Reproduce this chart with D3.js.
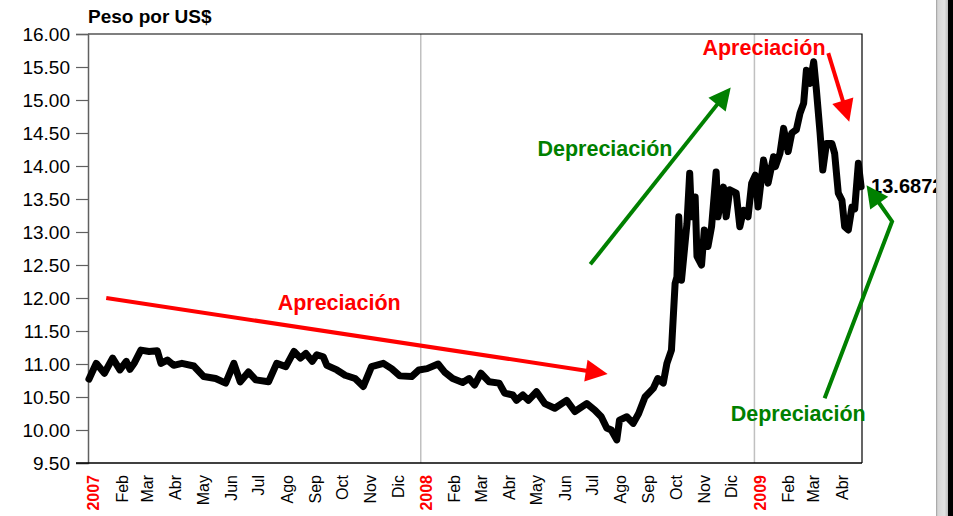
<!DOCTYPE html>
<html>
<head>
<meta charset="utf-8">
<script src="https://cdn.jsdelivr.net/npm/d3@7"></script>
<style>
  body { margin: 0; background: #fff; }
</style>
</head>
<body>
<div id="chart"></div>
<script>
(function () {

    /* ── data ────────────────────────────────────────────────────── */
    var DATES = [
        "2007-01-02","2007-01-10","2007-01-19","2007-01-28","2007-02-05","2007-02-12","2007-02-16","2007-02-21",
        "2007-02-28","2007-03-09","2007-03-18","2007-03-22","2007-03-29","2007-04-05","2007-04-14","2007-04-27",
        "2007-05-08","2007-05-21","2007-06-01","2007-06-10","2007-06-17","2007-06-26","2007-07-04","2007-07-18",
        "2007-07-27","2007-08-06","2007-08-15","2007-08-22","2007-08-28","2007-09-04","2007-09-09","2007-09-16",
        "2007-09-20","2007-10-01","2007-10-10","2007-10-21","2007-10-30","2007-11-08","2007-11-21","2007-11-30",
        "2007-12-09","2007-12-22","2007-12-30","2008-01-08","2008-01-20","2008-01-27","2008-02-05","2008-02-16",
        "2008-02-23","2008-02-29","2008-03-07","2008-03-16","2008-03-27","2008-04-02","2008-04-11","2008-04-15",
        "2008-04-22","2008-04-28","2008-05-07","2008-05-16","2008-05-27","2008-06-09","2008-06-18","2008-07-01",
        "2008-07-10","2008-07-17","2008-07-23","2008-07-28","2008-08-03","2008-08-06","2008-08-14","2008-08-21",
        "2008-08-27","2008-09-03","2008-09-12","2008-09-17","2008-09-23","2008-09-27","2008-10-02","2008-10-06",
        "2008-10-08","2008-10-10","2008-10-13","2008-10-19","2008-10-22","2008-10-24","2008-10-28","2008-10-30",
        "2008-11-04","2008-11-07","2008-11-11","2008-11-15","2008-11-20","2008-11-22","2008-11-28","2008-12-01",
        "2008-12-05","2008-12-12","2008-12-16","2008-12-20","2008-12-25","2008-12-29","2009-01-02","2009-01-05",
        "2009-01-11","2009-01-16","2009-01-22","2009-01-24","2009-01-29","2009-02-02","2009-02-07","2009-02-11",
        "2009-02-16","2009-02-20","2009-02-24","2009-02-27","2009-03-03","2009-03-07","2009-03-10","2009-03-14",
        "2009-03-17","2009-03-21","2009-03-27","2009-03-30","2009-04-03","2009-04-07","2009-04-10","2009-04-14",
        "2009-04-18","2009-04-21","2009-04-25","2009-04-28"
    ];

    var VALUES = [
        10.77, 11.01, 10.86, 11.09, 10.91, 11.04, 10.92, 11.02,
        11.21, 11.19, 11.20, 11.01, 11.06, 10.98, 11.01, 10.97,
        10.81, 10.78, 10.71, 11.01, 10.73, 10.88, 10.76, 10.73,
        11.01, 10.96, 11.19, 11.09, 11.16, 11.04, 11.14, 11.11,
        10.98, 10.91, 10.83, 10.78, 10.66, 10.96, 11.01, 10.93,
        10.82, 10.81, 10.91, 10.93, 11.00, 10.88, 10.78, 10.72,
        10.78, 10.68, 10.86, 10.73, 10.71, 10.56, 10.53, 10.45,
        10.53, 10.45, 10.58, 10.40, 10.33, 10.45, 10.28, 10.40,
        10.30, 10.20, 10.03, 10.00, 9.85, 10.15, 10.20, 10.10,
        10.25, 10.50, 10.63, 10.78, 10.71, 11.01, 11.21, 12.22,
        12.32, 13.23, 12.27, 13.13, 13.89, 13.23, 13.53, 12.63,
        12.50, 13.03, 12.78, 13.08, 13.91, 13.23, 13.68, 13.23,
        13.64, 13.59, 13.08, 13.33, 13.23, 13.74, 13.86, 13.38,
        14.09, 13.74, 14.14, 13.99, 14.19, 14.57, 14.22, 14.50,
        14.55, 14.80, 14.95, 15.45, 15.25, 15.58, 15.15, 14.50,
        13.94, 14.34, 14.34, 14.19, 13.59, 13.48, 13.08, 13.03,
        13.38, 13.35, 14.04, 13.6872
    ];

    var Y_TICKS     = [9.5, 10, 10.5, 11, 11.5, 12, 12.5, 13, 13.5, 14, 14.5, 15, 15.5, 16];
    var MONTH_NAMES = ["", "Feb", "Mar", "Abr", "May", "Jun", "Jul", "Ago", "Sep", "Oct", "Nov", "Dic"];
    var X_START     = "2007-01-01";
    var X_END       = "2009-04-29";
    var GRID_YEARS  = ["2008-01-01", "2009-01-01"];
    var Y_TITLE     = "Peso por US$";
    var LAST_LABEL  = "13.6872";

    // annotations, in data units: [date, value]
    var ARROWS = [
        { color: "#ff0000", pts: [["2007-01-21", 12.00], ["2008-07-24", 10.85]] },
        { color: "#008000", pts: [["2008-07-05", 12.51], ["2008-12-06", 15.19]] },
        { color: "#ff0000", pts: [["2009-03-23", 15.71], ["2009-04-15", 14.67]] },
        { color: "#008000", pts: [["2009-03-19", 10.48], ["2009-06-01", 13.16], ["2009-05-04", 13.71]] }
    ];
    var NOTES = [
        { text: "Apreciación",  color: "#ff0000", at: ["2007-07-28", 11.82] },
        { text: "Depreciación", color: "#008000", at: ["2008-05-08", 14.15] },
        { text: "Apreciación",  color: "#ff0000", at: ["2008-11-05", 15.68] },
        { text: "Depreciación", color: "#008000", at: ["2008-12-06", 10.14] }
    ];

    /* ── setup ────────────────────────────────────────────────────── */
    var W = 953, H = 516;
    var margin = { top: 34, right: 91, bottom: 53, left: 88 };
    var iW = W - margin.left - margin.right;
    var iH = H - margin.top - margin.bottom;
    var FONT = "'Liberation Sans', Arial, sans-serif";

    var parse = d3.utcParse("%Y-%m-%d");
    var data = DATES.map(function (d, i) { return { date: parse(d), value: VALUES[i] }; });

    var svg = d3.select("#chart").append("svg")
        .attr("width", W).attr("height", H)
        .style("font-family", FONT);

    svg.append("rect").attr("width", W).attr("height", H).attr("fill", "#fff");

    var g = svg.append("g")
        .attr("transform", "translate(" + margin.left + "," + margin.top + ")");

    var x = d3.scaleUtc()
        .domain([parse(X_START), parse(X_END)])
        .range([0, iW]);

    var y = d3.scaleLinear()
        .domain([Y_TICKS[0], Y_TICKS[Y_TICKS.length - 1]])
        .range([iH, 0]);

    // year gridlines
    g.selectAll(".grid-year")
        .data(GRID_YEARS)
        .enter().append("line")
        .attr("x1", function (d) { return x(parse(d)); })
        .attr("x2", function (d) { return x(parse(d)); })
        .attr("y1", 0).attr("y2", iH)
        .attr("stroke", "#c0c0c0")
        .attr("stroke-width", 1.5);

    // frame (top + right)
    g.append("path")
        .attr("d", "M0,0H" + iW + "V" + iH)
        .attr("fill", "none")
        .attr("stroke", "#000")
        .attr("stroke-width", 1.2);

    /* ── axes ─────────────────────────────────────────────────────── */
    var yAxis = g.append("g")
        .call(d3.axisLeft(y)
            .tickValues(Y_TICKS)
            .tickSize(12)
            .tickFormat(d3.format(".2f")));
    yAxis.select(".domain").attr("stroke", "#606060").attr("stroke-width", 1.5);
    yAxis.selectAll(".tick line").attr("stroke", "#606060").attr("stroke-width", 1.2);
    yAxis.selectAll(".tick text")
        .attr("x", -18)
        .attr("dy", "0.36em")
        .style("font-family", FONT)
        .style("font-size", "19px")
        .attr("fill", "#000");

    var months = d3.utcMonth.range(x.domain()[0], x.domain()[1]);
    var xAxis = g.append("g")
        .attr("transform", "translate(0," + iH + ")")
        .call(d3.axisBottom(x)
            .tickValues(months)
            .tickSize(0)
            .tickFormat(function (d) {
                var m = d.getUTCMonth();
                return m === 0 ? d3.utcFormat("%Y")(d) : MONTH_NAMES[m];
            }));
    xAxis.select(".domain").attr("stroke", "#000").attr("stroke-width", 1.5)
        .attr("d", "M-12,0H" + iW);
    xAxis.selectAll(".tick text")
        .attr("transform", "rotate(-90)")
        .attr("text-anchor", "end")
        .attr("x", -12)
        .attr("y", 5)
        .attr("dy", "0.36em")
        .style("font-family", FONT)
        .style("font-size", "16px")
        .attr("fill", function (d) { return d.getUTCMonth() === 0 ? "#ff0000" : "#000"; })
        .style("font-weight", function (d) { return d.getUTCMonth() === 0 ? "bold" : "normal"; });

    // axis title
    svg.append("text")
        .attr("x", margin.left)
        .attr("y", 23)
        .style("font-size", "19px")
        .style("font-weight", "bold")
        .text(Y_TITLE);

    /* ── line ─────────────────────────────────────────────────────── */
    var line = d3.line()
        .x(function (d) { return x(d.date); })
        .y(function (d) { return y(d.value); });

    g.append("path")
        .datum(data)
        .attr("d", line)
        .attr("fill", "none")
        .attr("stroke", "#000")
        .attr("stroke-width", 7)
        .attr("stroke-linejoin", "round")
        .attr("stroke-linecap", "round");

    // last value label
    var last = data[data.length - 1];
    g.append("text")
        .attr("x", x(last.date) + 10)
        .attr("y", y(last.value) - 1)
        .attr("dy", "0.36em")
        .style("font-size", "20px")
        .style("font-weight", "bold")
        .attr("fill", "#000")
        .text(LAST_LABEL);

    /* ── annotations ──────────────────────────────────────────────── */
    var HEAD_LEN = 22, HEAD_W = 11;

    ARROWS.forEach(function (a) {
        var p = a.pts.map(function (q) { return [x(parse(q[0])), y(q[1])]; });
        var tip = p[p.length - 1], prev = p[p.length - 2];
        var dx = tip[0] - prev[0], dy = tip[1] - prev[1];
        var len = Math.sqrt(dx * dx + dy * dy);
        var ux = dx / len, uy = dy / len;
        var base = [tip[0] - ux * HEAD_LEN, tip[1] - uy * HEAD_LEN];
        var shaft = p.slice(0, -1).concat([[tip[0] - ux * (HEAD_LEN - 2), tip[1] - uy * (HEAD_LEN - 2)]]);

        g.append("path")
            .attr("d", d3.line()(shaft))
            .attr("fill", "none")
            .attr("stroke", a.color)
            .attr("stroke-width", 4)
            .attr("stroke-linejoin", "miter");

        g.append("path")
            .attr("d", d3.line()([
                tip,
                [base[0] - uy * HEAD_W, base[1] + ux * HEAD_W],
                [base[0] + uy * HEAD_W, base[1] - ux * HEAD_W]
            ]) + "Z")
            .attr("fill", a.color);
    });

    g.selectAll(".note")
        .data(NOTES)
        .enter().append("text")
        .attr("class", "note")
        .attr("x", function (d) { return x(parse(d.at[0])); })
        .attr("y", function (d) { return y(d.at[1]); })
        .attr("fill", function (d) { return d.color; })
        .style("font-size", "21.5px")
        .style("font-weight", "bold")
        .text(function (d) { return d.text; });

    /* ── window edge strip on the right ───────────────────────────── */
    var grad = svg.append("defs").append("linearGradient")
        .attr("id", "edge").attr("x1", 0).attr("x2", 1);
    grad.append("stop").attr("offset", 0).attr("stop-color", "#9a9a9a");
    grad.append("stop").attr("offset", 0.15).attr("stop-color", "#d6d6d6");
    grad.append("stop").attr("offset", 0.7).attr("stop-color", "#e2e2e2");
    grad.append("stop").attr("offset", 1).attr("stop-color", "#bdbdbd");

    svg.append("rect")
        .attr("x", 936).attr("y", 0)
        .attr("width", 12).attr("height", H)
        .attr("fill", "url(#edge)");
    svg.append("rect")
        .attr("x", 948).attr("y", 0)
        .attr("width", 5).attr("height", H)
        .attr("fill", "#000");

}());
</script>
</body>
</html>
